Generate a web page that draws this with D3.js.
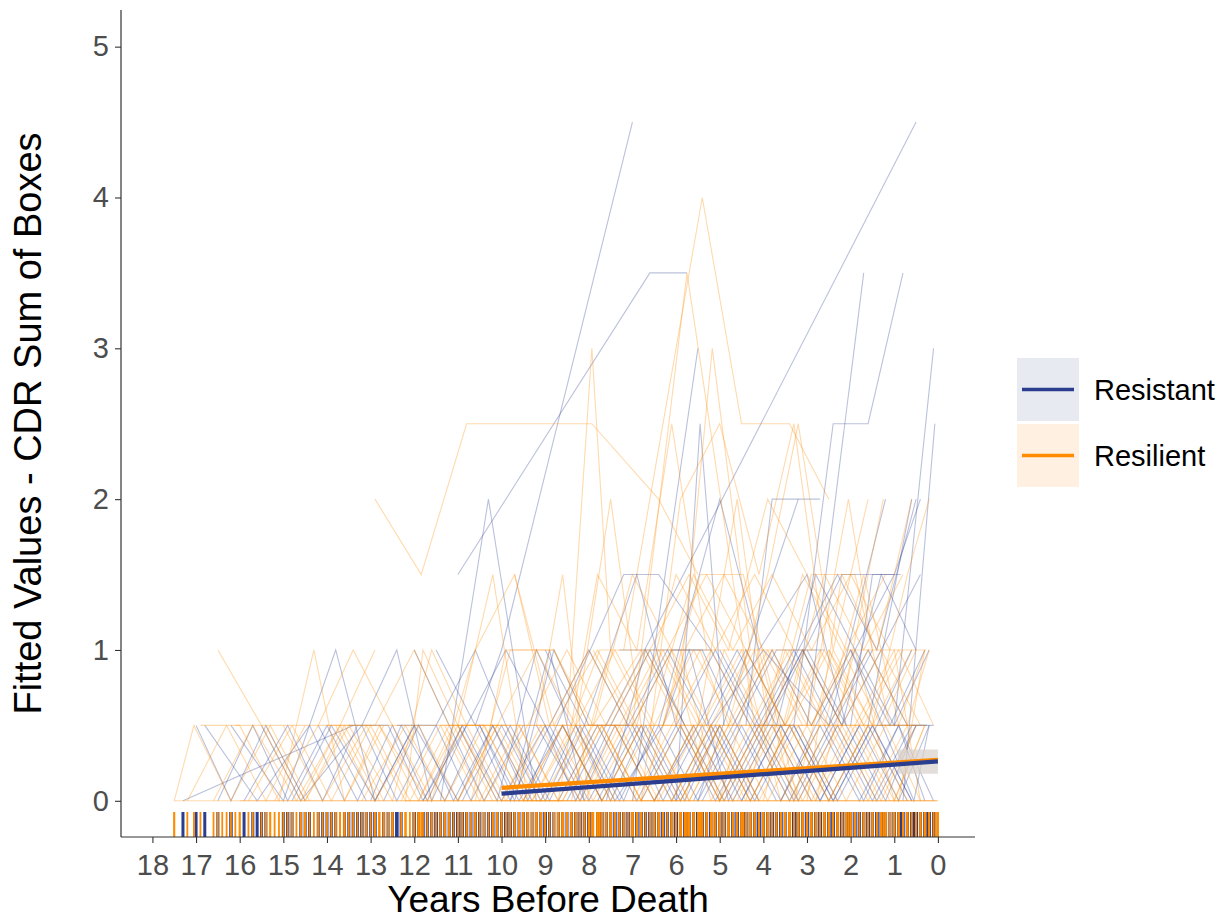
<!DOCTYPE html>
<html>
<head>
<meta charset="utf-8">
<script src="https://cdn.jsdelivr.net/npm/d3@7"></script>
<style>
  html, body { margin: 0; padding: 0; background: #ffffff; }
  svg { display: block; font-family: "Liberation Sans", Arial, sans-serif; }
</style>
</head>
<body>
<svg id="chart" width="1226" height="922"></svg>
<script>
// ---------------- DATA ----------------
const groups = ["Resistant", "Resilient"];
const groupColors = ["#2B3D8F", "#FF8C00"];
const legendFills = ["#E8EAF2", "#FFF0E1"];

const xTickValues = [18, 17, 16, 15, 14, 13, 12, 11, 10, 9, 8, 7, 6, 5, 4, 3, 2, 1, 0];
const yTickValues = [0, 1, 2, 3, 4, 5];

// individual trajectories: [years before death, CDR sum of boxes]
const resistantTraj = [
  [[10.6,0.5],[10.0,1.0],[7.0,4.5]],
  [[11.0,1.5],[6.6,3.5],[5.75,3.5]],
  [[8.5,0],[0.5,4.5]],
  [[3.3,0.5],[2.4,2.5],[1.6,2.5],[0.8,3.5]],
  [[3.0,0.5],[1.7,3.5]],
  [[1.0,0.5],[0.1,3.0]],
  [[0.8,0],[0.07,2.5]],
  [[1.6,0.5],[0.6,2.0]],
  [[4.4,0.5],[3.8,2.0],[2.7,2.0]],
  [[5.5,0],[3.2,2.0]],
  [[11.4,0],[10.3,2.0],[9.2,0]],
  [[9.5,0],[7.2,1.5],[6.4,1.5],[5.2,1.0]],
  [[6.0,0],[5.45,2.5],[4.9,0.5]],
  [[7.0,0],[5.5,3.0]],
  [[2.0,0.5],[1.5,1.5],[1.0,1.5],[0.4,2.0]],
  [[17.3,0],[13.4,0.5]],
  [[17.0,0.5],[16.2,0],[15.4,0.5],[14.5,0]],
  [[16.2,0.5],[15.0,0],[13.8,1.0],[12.9,0],[12.0,0.5]],
  [[15.5,0.5],[14.6,0],[13.2,0.5],[12.4,1.0],[11.6,0],[10.8,0.5]],
  [[14.8,0],[13.9,0.5],[12.9,0],[12.0,0.5],[11.0,0],[10.2,0.5],[9.3,0]],
  [[13.5,0.5],[12.6,0.5],[11.8,0],[10.9,0.5],[10.0,0],[9.0,0.5],[8.1,0]],
  [[13.0,0],[12.3,0.5],[11.3,0],[10.5,0.5],[9.7,0],[8.8,1.0],[8.0,0.5]],
  [[12.4,0.5],[11.5,0.5],[10.7,0],[9.8,0.5],[8.9,0],[8.1,0.5],[7.2,0],[6.5,0.5]],
  [[11.8,0],[10.8,0.5],[9.9,1.0],[9.0,0.5],[8.3,0],[7.5,0.5],[6.6,1.0],[5.8,0.5]],
  [[10.5,0.5],[9.6,0],[8.6,0.5],[7.7,0],[6.8,0.5],[5.9,0],[5.0,0.5],[4.1,0]],
  [[9.8,0],[8.9,0.5],[8.0,1.0],[7.1,0.5],[6.2,1.0],[5.3,0.5],[4.4,1.0],[3.5,0.5]],
  [[9.2,0.5],[8.2,0],[7.4,0.5],[6.5,0],[5.6,0.5],[4.7,0],[3.8,0.5],[2.9,0]],
  [[8.7,0],[7.8,0.5],[6.9,0],[6.0,0.5],[5.1,1.0],[4.2,0.5],[3.3,1.0],[2.4,0.5],[1.5,1.0]],
  [[8.0,0.5],[7.0,0.5],[6.1,0],[5.2,0.5],[4.3,0],[3.4,0.5],[2.5,0],[1.6,0.5],[0.7,0]],
  [[7.6,0],[6.7,1.0],[5.8,0.5],[4.9,0],[4.0,0.5],[3.1,1.0],[2.2,0.5],[1.3,1.5],[0.5,1.0]],
  [[7.0,0.5],[6.1,1.0],[5.2,1.0],[4.3,0.5],[3.4,0],[2.5,0.5],[1.6,1.0],[0.7,0.5]],
  [[6.5,0],[5.5,0.5],[4.6,1.0],[3.7,0.5],[2.8,1.5],[1.9,1.0],[1.0,1.5]],
  [[6.0,0.5],[5.1,0],[4.2,0.5],[3.3,0.5],[2.4,0],[1.5,0.5],[0.6,0]],
  [[5.6,0],[4.7,0.5],[3.8,1.0],[2.9,0.5],[2.0,1.0],[1.1,0.5],[0.3,1.0]],
  [[5.0,1.0],[4.1,0.5],[3.2,1.0],[2.3,1.5],[1.4,1.0],[0.5,2.0]],
  [[4.5,0],[3.6,0.5],[2.7,0],[1.8,0.5],[0.9,0],[0.2,0.5]],
  [[4.0,0.5],[3.1,1.0],[2.2,0.5],[1.3,1.0],[0.4,1.5]],
  [[3.6,0],[2.8,0.5],[1.9,1.0],[1.0,0.5],[0.2,1.0]],
  [[3.0,1.0],[2.1,0.5],[1.2,0],[0.5,0.5]],
  [[2.6,0.5],[1.7,0],[0.9,0.5],[0.1,0]],
  [[7.3,1.0],[6.3,1.0],[5.4,1.0],[4.6,0.5],[3.7,1.0],[2.6,1.0]],
  [[6.4,0.5],[5.0,2.0],[4.1,1.0],[3.0,1.5],[2.1,0.5]],
  [[9.0,1.0],[8.1,0.5],[6.9,1.5],[6.0,0.5]],
  [[11.0,0.5],[10.1,0],[9.2,1.0],[8.4,0.5]],
  [[12.0,1.0],[11.2,0.5],[10.4,0],[9.5,0.5]],
  [[13.2,0.5],[12.4,0],[11.5,0.5],[10.6,1.0],[9.9,0.5]],
  [[16.8,0.5],[15.6,0],[14.4,0.5],[13.6,0]],
  [[15.9,0],[14.9,0.5],[14.1,0],[13.3,0.5]],
  [[2.0,1.0],[0.55,0],[0.2,0.5]],
  [[1.4,0.5],[0.6,0.5],[0.25,0.5]],
  [[3.9,0.5],[2.2,1.5],[1.5,1.5],[0.85,1.5]],
  [[5.2,0.5],[4.0,1.0],[2.5,0.5],[1.2,2.0]],
  [[8.3,0.5],[7.4,0],[6.3,0.5],[5.7,1.0],[4.8,0],[3.9,0.5]],
  [[12.7,0],[11.9,0.5],[11.1,0],[10.2,0.5],[9.4,0],[8.6,0.5],[7.7,0]],
  [[10.9,0],[10.0,0.5],[9.1,0],[8.3,0.5],[7.5,0],[6.7,0.5],[5.8,0],[5.0,0.5]],
  [[9.9,0.5],[9.0,0],[8.2,0.5],[7.3,0],[6.4,0.5],[5.5,0],[4.6,0.5],[3.7,0]],
  [[8.9,0.5],[8.0,0],[7.1,0.5],[6.3,0],[5.4,0.5],[4.5,0],[3.6,0.5],[2.7,0],[1.8,0.5]],
  [[7.8,0],[6.9,0.5],[6.0,0],[5.1,0.5],[4.2,0],[3.3,0.5],[2.4,0],[1.5,0.5],[0.6,0]],
  [[6.8,0],[5.9,0.5],[5.0,0],[4.1,0.5],[3.2,0],[2.3,0.5],[1.4,0],[0.5,0.5]],
  [[5.4,0],[4.5,0.5],[3.6,0],[2.7,0.5],[1.8,0],[0.9,0.5],[0.3,0]],
  [[4.2,0.5],[3.3,0],[2.4,0.5],[1.5,0],[0.6,0.5],[0.1,0.5]],
  [[14.2,0.5],[13.3,0],[12.5,0.5],[11.7,0],[10.9,0.5]],
  [[16.5,0],[15.7,0.5],[14.9,0],[14.0,0.5],[13.1,0]],
  [[3.2,0.5],[2.3,0],[1.4,0.5],[0.6,1.0]],
  [[11.5,1.0],[10.6,0.5],[9.8,0],[8.9,1.0],[8.1,0]]
];

const resilientTraj = [
  [[7.2,1.0],[5.4,4.0],[4.5,2.5],[3.4,2.5],[2.5,2.0]],
  [[7.0,0.5],[5.75,3.5],[4.2,0.5]],
  [[8.5,0.5],[7.93,3.0],[7.5,1.0]],
  [[6.0,0.5],[5.17,3.0],[4.3,1.0]],
  [[12.9,2.0],[11.84,1.5],[10.8,2.5],[7.93,2.5],[6.4,2.0],[5.5,1.5]],
  [[8.3,0.5],[7.5,2.0],[6.8,0.5]],
  [[3.0,0.5],[2.05,2.0],[1.5,1.0]],
  [[2.3,0.5],[1.25,2.0]],
  [[5.5,0.5],[4.6,2.0],[3.9,0.5]],
  [[9.2,0.5],[8.6,1.5],[8.0,0]],
  [[11.0,0.5],[10.2,1.5],[9.4,0]],
  [[17.5,0],[16.4,0],[15.3,0],[14.2,0],[13.1,0],[12.0,0],[10.9,0],[9.8,0],[8.7,0],[7.6,0],[6.5,0],[5.4,0],[4.3,0],[3.2,0],[2.1,0],[1.0,0],[0.0,0]],
  [[16.0,0],[14.6,0],[13.3,0],[11.9,0],[10.4,0],[9.1,0],[7.8,0],[6.4,0],[5.0,0],[3.7,0],[2.4,0],[1.1,0],[0.05,0]],
  [[12.2,0],[10.6,0],[9.4,0],[8.2,0],[6.9,0],[5.7,0],[4.5,0],[3.3,0],[2.2,0],[0.9,0],[0.0,0]],
  [[16.1,0.5],[14.9,0.5],[13.8,0.5],[12.6,0.5],[11.5,0.5],[10.3,0.5],[9.2,0.5],[8.0,0.5],[6.9,0.5],[5.7,0.5],[4.6,0.5],[3.4,0.5],[2.3,0.5],[1.2,0.5],[0.3,0.5]],
  [[11.4,0.5],[9.9,0.5],[8.6,0.5],[7.2,0.5],[5.9,0.5],[4.4,0.5],[3.0,0.5],[1.7,0.5],[0.5,0.5]],
  [[17.5,0],[17.05,0.5],[16.2,0],[15.3,0.5],[14.4,0]],
  [[16.5,1.0],[15.5,0.5],[14.6,0],[13.7,0.5],[12.8,0]],
  [[16.9,0.5],[16.0,0.5],[15.1,0],[14.3,1.0],[13.6,0],[12.7,0.5]],
  [[15.8,0],[14.8,0.5],[13.9,0],[13.0,0.5],[12.1,0],[11.2,0.5]],
  [[15.0,0.5],[14.1,0],[13.1,0.5],[12.2,0],[11.8,1.0],[11.0,0.5],[10.1,0]],
  [[14.5,0],[13.5,0.5],[12.5,0],[11.6,1.0],[10.8,0.5],[9.9,0],[9.0,0.5]],
  [[13.8,0.5],[12.9,0],[11.9,0.5],[11.0,0],[10.1,0.5],[9.2,1.0],[8.3,0.5],[7.4,0]],
  [[13.2,0],[12.2,0.5],[11.3,0],[10.4,0.5],[9.5,0],[8.6,0.5],[7.7,0],[6.8,0.5]],
  [[12.5,0.5],[11.6,0],[10.6,1.0],[9.7,1.5],[8.9,0.5],[8.0,1.0],[7.1,0.5]],
  [[11.9,0],[11.0,0.5],[10.0,0],[9.1,0.5],[8.2,0],[7.3,0.5],[6.4,0],[5.5,0.5]],
  [[11.3,0.5],[10.4,0],[9.4,0.5],[8.5,1.0],[7.6,0.5],[6.7,1.0],[5.8,0.5],[4.9,0]],
  [[10.7,0],[9.8,1.0],[8.8,1.0],[7.9,0.5],[7.0,1.5],[6.1,1.0],[5.2,0.5],[4.3,1.0]],
  [[10.2,0.5],[9.3,0],[8.4,0.5],[7.5,0],[6.6,0.5],[5.7,0],[4.8,0.5],[3.9,0],[3.0,0.5]],
  [[9.7,1.5],[8.8,0.5],[7.8,1.0],[6.9,0.5],[6.0,1.5],[5.1,1.0],[4.2,1.5],[3.3,1.0]],
  [[9.3,0],[8.3,0.5],[7.4,1.0],[6.5,0.5],[5.6,1.0],[4.7,0.5],[3.8,1.0],[2.9,0.5],[2.0,1.0]],
  [[8.8,0.5],[7.9,0],[7.0,0.5],[6.1,0],[5.2,0.5],[4.3,0],[3.4,0.5],[2.5,0],[1.6,0.5]],
  [[8.4,0],[7.5,1.0],[6.6,0.5],[5.6,1.5],[4.7,1.0],[3.8,1.5],[2.9,1.0],[2.0,1.5],[1.1,1.0]],
  [[7.9,1.0],[7.0,0.5],[6.1,1.0],[5.2,0],[4.3,0.5],[3.4,1.0],[2.5,0.5],[1.6,0],[0.7,0.5]],
  [[7.5,0.5],[6.6,1.0],[5.7,1.5],[4.8,1.0],[3.9,2.0],[3.0,1.5],[2.1,1.0],[1.2,1.5]],
  [[7.0,0],[6.1,0.5],[5.2,1.0],[4.3,0.5],[3.4,0],[2.5,0.5],[1.6,1.0],[0.7,0.5],[0.2,1.0]],
  [[6.6,0.5],[5.7,0],[4.8,0.5],[3.9,1.0],[3.0,0.5],[2.1,0],[1.2,0.5],[0.4,0]],
  [[6.2,1.0],[5.3,1.5],[4.4,1.0],[3.5,0.5],[2.6,1.0],[1.7,0.5],[0.8,1.0]],
  [[5.8,0],[4.9,1.0],[4.0,0.5],[3.1,1.5],[2.2,1.0],[1.3,0.5],[0.5,1.0]],
  [[5.3,0.5],[4.4,0],[3.5,1.0],[2.6,0.5],[1.7,1.5],[0.9,0.5],[0.3,1.0]],
  [[4.9,0],[4.0,0.5],[3.1,0],[2.2,0.5],[1.3,0],[0.5,0.5]],
  [[4.4,1.0],[3.5,0.5],[2.6,1.5],[1.7,1.0],[0.8,1.5]],
  [[4.0,0],[3.1,1.0],[2.2,0.5],[1.3,1.0],[0.4,0.5]],
  [[3.5,0.5],[2.7,1.0],[1.8,0.5],[0.9,1.0],[0.1,0.5]],
  [[3.0,0],[2.2,1.5],[1.4,1.0],[0.6,2.0]],
  [[2.5,1.0],[1.7,0.5],[0.9,0],[0.3,1.0]],
  [[6.3,0.5],[5.45,1.0],[4.5,1.0],[3.6,1.0],[2.8,1.0]],
  [[2.9,0.5],[2.1,1.0],[1.2,1.0],[0.28,1.0]],
  [[6.3,0.5],[5.45,1.5],[4.46,1.5],[3.6,0.5]],
  [[3.8,0.5],[2.9,1.5],[1.9,1.5],[1.1,0.5]],
  [[10.6,0],[9.9,1.0],[8.8,1.0],[8.0,0.5]],
  [[8.4,0.5],[7.75,1.0],[5.45,1.0],[4.8,0.5]],
  [[9.6,0.5],[8.7,0],[7.8,1.5],[6.9,1.0],[6.1,2.5],[5.3,1.0]],
  [[6.8,0],[5.9,2.0],[5.0,2.5],[4.1,1.5],[3.3,2.5],[2.6,1.0]],
  [[4.8,0.5],[3.9,1.5],[3.2,2.5],[2.4,1.0],[1.6,2.0]],
  [[3.4,0.5],[2.5,1.0],[1.5,0.5],[0.7,1.5],[0.2,2.0]],
  [[14.0,0.5],[12.9,0.5],[12.0,1.0],[11.2,0.5],[10.4,0.5]],
  [[12.8,0.5],[11.7,0],[10.9,0.5],[9.9,0.5],[9.1,0]],
  [[10.0,0],[9.1,0],[8.1,0.5],[7.3,0.5],[6.4,1.0],[5.5,0.5]],
  [[9.0,0],[7.9,0.5],[6.8,1.0],[5.9,0.5],[5.0,0],[4.1,0.5]],
  [[7.7,0.5],[6.8,0],[5.8,1.0],[4.9,1.5],[4.0,1.0],[3.1,0.5]],
  [[5.9,1.0],[5.0,0],[4.1,1.0],[3.2,0],[2.3,0.5],[1.4,0]],
  [[2.8,0],[1.9,1.0],[1.0,0],[0.3,0.5]],
  [[1.9,0.5],[1.0,1.0],[0.4,0]],
  [[15.2,0],[14.2,0.5],[13.4,1.0],[12.5,0.5]],
  [[16.6,0],[15.7,0.5],[14.7,0],[13.7,0.5],[12.9,1.0]],
  [[12.3,0],[11.4,0.5],[10.5,0],[9.6,0.5],[8.7,0],[7.8,0.5],[6.9,0]],
  [[11.0,0],[10.1,0.5],[9.2,0],[8.3,0],[7.4,0.5],[6.5,0],[5.6,0.5]],
  [[10.4,0.5],[9.5,0],[8.6,0.5],[7.7,0],[6.8,0.5],[5.9,0],[5.0,0.5],[4.1,0]],
  [[9.5,0],[8.6,0],[7.7,0.5],[6.8,0],[5.9,0.5],[5.0,0],[4.1,0.5],[3.2,0]],
  [[8.6,0],[7.7,0.5],[6.8,0],[5.9,0],[5.0,0.5],[4.1,0],[3.2,0.5],[2.3,0]],
  [[7.4,0.5],[6.5,0],[5.6,0.5],[4.7,0],[3.8,0.5],[2.9,0],[2.0,0.5],[1.1,0]],
  [[6.1,0],[5.2,0.5],[4.3,0],[3.4,0.5],[2.5,0],[1.6,0.5],[0.7,0]],
  [[4.6,0],[3.7,0.5],[2.8,0],[1.9,0.5],[1.0,0],[0.3,0.5]],
  [[13.6,0],[12.8,0.5],[11.9,0],[11.1,0.5],[10.2,0]],
  [[15.4,0.5],[14.5,0],[13.6,0.5],[12.7,0]],
  [[17.2,0],[16.3,0.5],[15.4,0],[14.5,0.5]],
  [[8.1,0],[7.2,0.5],[6.3,1.0],[5.4,0.5],[4.5,1.0],[3.6,0],[2.7,0.5]],
  [[5.1,0.5],[4.2,1.0],[3.3,0],[2.4,1.0],[1.5,0.5],[0.6,1.0]]
];

// fitted group regression lines and confidence band
const regYears = [10, 0];
const regResistant = [0.047, 0.262];
const regResilient = [0.086, 0.272];
const bandYears = [0.92, 0.0];
const bandLower = [0.18, 0.18];
const bandUpper = [0.34, 0.34];

// ---------------- CHART ----------------
const svg = d3.select("#chart");
const P = { left: 121, right: 975, top: 10, bottom: 837 };

const x = d3.scaleLinear().domain([18.72, -0.85]).range([P.left, P.right]);
const y = d3.scaleLinear().domain([-0.24, 5.243]).range([P.bottom, P.top]);

const line = d3.line().x(d => x(d[0])).y(d => y(d[1]));

const trajSets = [resistantTraj, resilientTraj];

// spaghetti lines
const gLines = svg.append("g");
trajSets.forEach((set, gi) => {
  gLines.append("g").selectAll("path")
    .data(set)
    .join("path")
    .attr("d", line)
    .attr("fill", "none")
    .attr("stroke", groupColors[gi])
    .attr("stroke-opacity", 0.32)
    .attr("stroke-width", 1.1);
});

// rug (navy underneath and wider, orange on top)
const rugLen = 25;
const gRug = svg.append("g");
[0, 1].forEach(gi => {
  const yrs = trajSets[gi].flat().map(d => d[0]);
  gRug.append("g").selectAll("line")
    .data(yrs)
    .join("line")
    .attr("x1", d => x(d)).attr("x2", d => x(d))
    .attr("y1", P.bottom - rugLen).attr("y2", P.bottom)
    .attr("stroke", groupColors[gi])
    .attr("stroke-width", gi === 0 ? 3.0 : 1.8);
});

// band
const bandData = bandYears.map((t, i) => [t, bandLower[i], bandUpper[i]]);
svg.append("path")
  .datum(bandData)
  .attr("d", d3.area().x(d => x(d[0])).y0(d => y(d[1])).y1(d => y(d[2])))
  .attr("fill", "#d8d0ca")
  .attr("fill-opacity", 0.7);

// regression lines
[[regResilient, 1], [regResistant, 0]].forEach(([vals, gi]) => {
  svg.append("path")
    .datum(regYears.map((t, i) => [t, vals[i]]))
    .attr("d", line)
    .attr("fill", "none")
    .attr("stroke", groupColors[gi])
    .attr("stroke-width", 4.2);
});

// axes
const tickColor = "#4D4D4D";
const xAxis = svg.append("g")
  .attr("transform", `translate(0,${P.bottom})`)
  .call(d3.axisBottom(x).tickValues(xTickValues).tickFormat(d3.format("d"))
        .tickSize(6).tickSizeOuter(0).tickPadding(11));
const yAxis = svg.append("g")
  .attr("transform", `translate(${P.left},0)`)
  .call(d3.axisLeft(y).tickValues(yTickValues).tickFormat(d3.format("d"))
        .tickSize(6).tickSizeOuter(0).tickPadding(6));

[xAxis, yAxis].forEach(g => {
  g.select(".domain").attr("stroke", "#333333").attr("stroke-width", 1.2);
  g.selectAll(".tick line").attr("stroke", "#333333").attr("stroke-width", 1.1);
  g.selectAll(".tick text")
    .attr("fill", tickColor)
    .style("font-size", "29px")
    .style("font-family", "'Liberation Sans', Arial, sans-serif");
});
xAxis.select(".domain").attr("d", `M${P.left},0H${P.right}`);
yAxis.select(".domain").attr("d", `M0,${P.top}V${P.bottom}`);

// axis titles
svg.append("text")
  .attr("x", (P.left + P.right) / 2)
  .attr("y", 912)
  .attr("text-anchor", "middle")
  .style("font-size", "37px")
  .attr("fill", "#000")
  .text("Years Before Death");

svg.append("text")
  .attr("transform", `translate(41,${(P.top + P.bottom) / 2}) rotate(-90)`)
  .attr("text-anchor", "middle")
  .style("font-size", "38px")
  .attr("fill", "#000")
  .text("Fitted Values - CDR Sum of Boxes");

// legend
const legend = svg.append("g").attr("transform", "translate(1017,358)");
groups.forEach((name, i) => {
  const g = legend.append("g").attr("transform", `translate(0,${i * 66})`);
  g.append("rect").attr("width", 62).attr("height", 63).attr("fill", legendFills[i]);
  g.append("line").attr("x1", 5).attr("x2", 57).attr("y1", 31.5).attr("y2", 31.5)
    .attr("stroke", groupColors[i]).attr("stroke-width", 3.5);
  g.append("text").attr("x", 77).attr("y", 42)
    .style("font-size", "29px").attr("fill", "#000").text(name);
});
</script>
</body>
</html>
